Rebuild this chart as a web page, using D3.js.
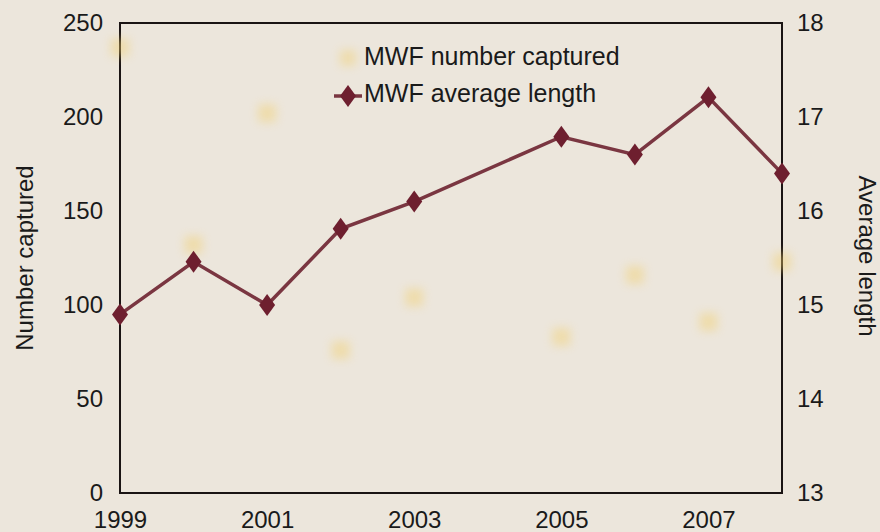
<!DOCTYPE html>
<html>
<head>
<meta charset="utf-8">
<script src="https://cdn.jsdelivr.net/npm/d3@7"></script>
<style>
	body { margin: 0; background: #ece6dc; }
	svg text { font-family: "Liberation Sans", Arial, sans-serif; fill: #1a1a1a; }
</style>
</head>
<body>
<script>

// Years on the x axis
var years = [1999, 2000, 2001, 2002, 2003, 2005, 2006, 2007, 2008];

// MWF number captured (faded markers, left axis)
var numberCaptured = [237, 132, 202, 76, 104, 83, 116, 91, 123];

// MWF average length (right axis)
var averageLength = [14.9, 15.46, 15.0, 15.81, 16.1, 16.79, 16.6, 17.21, 16.4];

// Tick labels
var xTicks = [1999, 2001, 2003, 2005, 2007];
var leftTicks = [0, 50, 100, 150, 200, 250];
var rightTicks = [13, 14, 15, 16, 17, 18];

var seriesNames = ["MWF number captured", "MWF average length"];


const width = 880;
const height = 532;

var margins = { top: 23, bottom: 39, left: 120, right: 98 };
var plotWidth = width - margins.left - margins.right;
var plotHeight = height - margins.top - margins.bottom;

var canvas = d3.select('body')
	.append('svg')
	.attr('width', width)
	.attr('height', height);

canvas.append('rect')
	.attr('width', width)
	.attr('height', height)
	.attr('fill', '#ece6dc');

var defs = canvas.append('defs');
defs.append('filter')
	.attr('id', 'fade')
	.attr('x', '-100%').attr('y', '-100%')
	.attr('width', '300%').attr('height', '300%')
	.append('feGaussianBlur')
	.attr('stdDeviation', 5);

var plot = canvas.append('g')
	.attr('transform', `translate(${margins.left},${margins.top})`);

var xScale = d3.scaleLinear().domain([1999, 2008]).range([0, plotWidth]);
var yLeft = d3.scaleLinear().domain([0, 250]).range([plotHeight, 0]);
var yRight = d3.scaleLinear().domain([13, 18]).range([plotHeight, 0]);

// axes
var xAxis = d3.axisBottom(xScale).tickValues(xTicks).tickFormat(d3.format('d')).tickSize(0).tickPadding(16);
var leftAxis = d3.axisLeft(yLeft).tickValues(leftTicks).tickSize(0).tickPadding(17);
var rightAxis = d3.axisRight(yRight).tickValues(rightTicks).tickFormat(d3.format('d')).tickSize(0).tickPadding(15);

var gx = plot.append('g').attr('transform', `translate(0,${plotHeight})`).call(xAxis);
var gl = plot.append('g').call(leftAxis);
var gr = plot.append('g').attr('transform', `translate(${plotWidth},0)`).call(rightAxis);

[gx, gl, gr].forEach(function(g) {
	g.select('.domain').remove();
	g.selectAll('text').style('font-size', '24px').attr('fill', '#1a1a1a');
});
gx.selectAll('text').attr('dy', '0.8em');

// frame
plot.append('rect')
	.attr('width', plotWidth)
	.attr('height', plotHeight)
	.attr('fill', 'none')
	.attr('stroke', '#1a1414')
	.attr('stroke-width', 2);

// faded "number captured" markers
var captured = years.map((y, i) => ({ year: y, value: numberCaptured[i] }));
plot.append('g').selectAll('rect')
	.data(captured)
	.enter().append('rect')
	.attr('x', d => xScale(d.year) - 9)
	.attr('y', d => yLeft(d.value) - 9)
	.attr('width', 18)
	.attr('height', 18)
	.attr('fill', '#f2cf6a')
	.attr('opacity', 0.42)
	.attr('filter', 'url(#fade)');

// average length line
var lengths = years.map((y, i) => ({ year: y, value: averageLength[i] }));
var line = d3.line().x(d => xScale(d.year)).y(d => yRight(d.value));

plot.append('path')
	.datum(lengths)
	.attr('d', line)
	.attr('fill', 'none')
	.attr('stroke', '#7a3641')
	.attr('stroke-width', 3.5);

var diamond = 'M0,-11L8,0L0,11L-8,0Z';

plot.append('g').selectAll('path')
	.data(lengths)
	.enter().append('path')
	.attr('d', diamond)
	.attr('transform', d => `translate(${xScale(d.year)},${yRight(d.value)})`)
	.attr('fill', '#6e1f2f');

// axis titles
canvas.append('text')
	.attr('transform', `translate(33,${margins.top + plotHeight / 2}) rotate(-90)`)
	.attr('text-anchor', 'middle')
	.style('font-size', '24px')
	.text('Number captured');

canvas.append('text')
	.attr('transform', `translate(859,${margins.top + plotHeight / 2 - 2}) rotate(90)`)
	.attr('text-anchor', 'middle')
	.style('font-size', '24px')
	.text('Average length');

// legend
var legend = canvas.append('g').attr('transform', 'translate(348,0)');

legend.append('rect')
	.attr('x', -8).attr('y', 50)
	.attr('width', 16).attr('height', 16)
	.attr('fill', '#f2cf6a')
	.attr('opacity', 0.42)
	.attr('filter', 'url(#fade)');

legend.append('line')
	.attr('x1', -14).attr('x2', 14)
	.attr('y1', 96).attr('y2', 96)
	.attr('stroke', '#7a3641')
	.attr('stroke-width', 3.5);

legend.append('path')
	.attr('d', diamond)
	.attr('transform', 'translate(0,96)')
	.attr('fill', '#6e1f2f');

legend.selectAll('text.item')
	.data(seriesNames)
	.enter().append('text')
	.attr('class', 'item')
	.attr('x', 16)
	.attr('y', (d, i) => 65 + i * 37)
	.style('font-size', '25px')
	.text(d => d);

</script>
</body>
</html>
